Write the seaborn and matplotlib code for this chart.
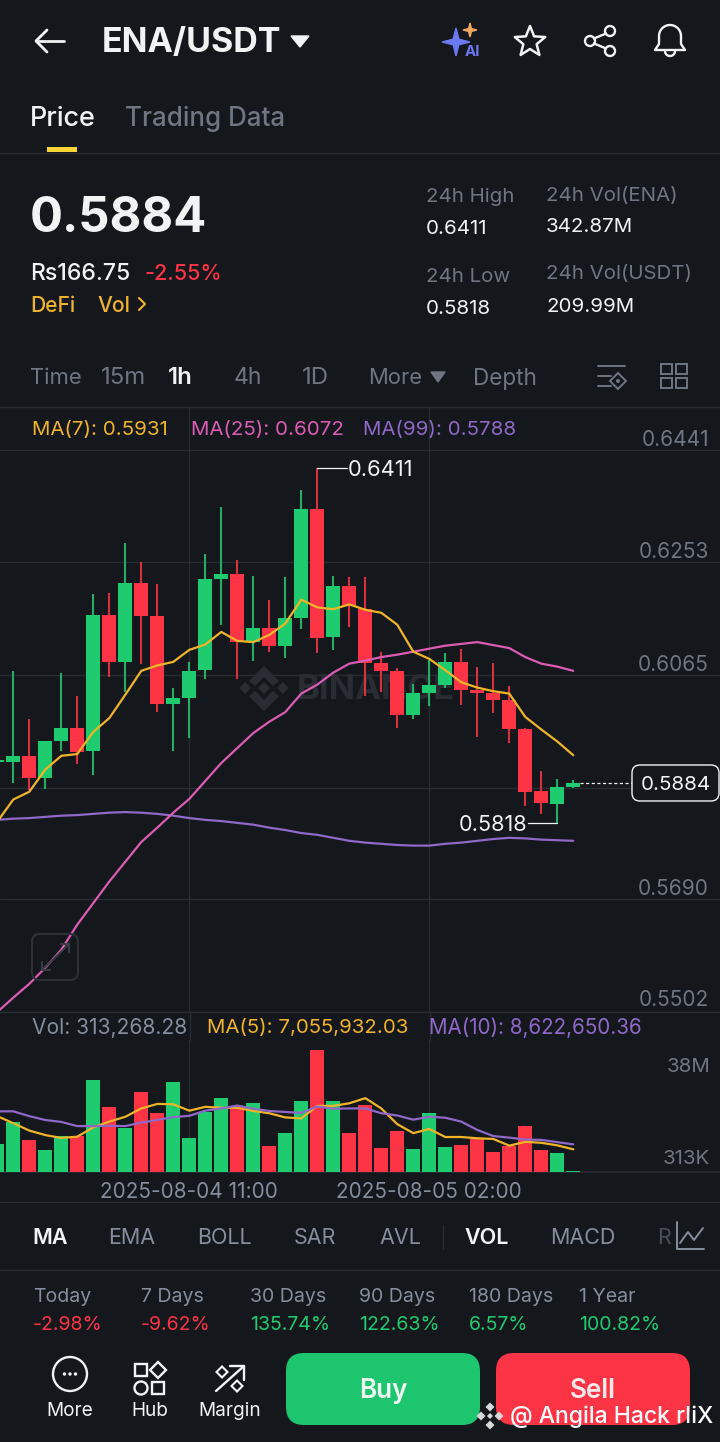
import numpy as np
import pandas as pd
import matplotlib
matplotlib.use('Agg')
import matplotlib.pyplot as plt
from matplotlib.patches import FancyBboxPatch, Polygon, Circle, Rectangle
from matplotlib.transforms import Affine2D
import seaborn as sns

# candle data, first candle is cut off by the left edge
candle_idx = list(range(-1, 36))
opens = [.5919, .5919, .5930, .5893, .5954, .5976, .5938, .6165, .6087, .6219, .6164, .6017, .6027, .6073, .6225, .6234,
         .6121, .6144, .6113, .6160, .6342, .6129, .6214, .6176, .6085, .6072, .5999, .6035, .6049, .6086, .6040, .6035,
         .6024, .5974, .5871, .5850, .5878]
closes = [.5923, .5930, .5893, .5954, .5977, .5937, .6165, .6087, .6219, .6164, .6017, .6026, .6072, .6225, .6233, .6121,
          .6144, .6113, .6160, .6343, .6127, .6214, .6181, .6085, .6072, .5999, .6035, .6049, .6086, .6040, .6035, .6024,
          .5974, .5870, .5851, .5878, .5884]
highs = [.5923, .6071, .5991, .5954, .6068, .6030, .6200, .6202, .6286, .6254, .6217, .6043, .6086, .6268, .6346, .6257,
         .6230, .6191, .6228, .6374, .6411, .6231, .6228, .6228, .6103, .6076, .6050, .6090, .6102, .6109, .6079, .6085,
         .6047, .5976, .5904, .5892, .5889]
lows = [.5919, .5884, .5873, .5874, .5938, .5916, .5898, .6062, .6037, .6083, .6004, .5938, .5960, .6059, .6149, .6059,
        .6088, .6103, .6093, .6142, .6101, .6107, .6145, .6030, .6036, .5977, .5991, .6014, .6044, .6015, .5962, .6001,
        .5951, .5847, .5832, .5818, .5877]

ma7 = [.5820, .5857, .5870, .5907, .5930, .5933, .5970, .5993, .6032, .6072, .6081, .6087, .6107, .6116, .6137, .6122,
       .6120, .6132, .6151, .6191, .6178, .6175, .6183, .6174, .6169, .6149, .6104, .6092, .6073, .6053, .6044, .6038,
       .6034, .5995, .5974, .5954, .5931]
ma25 = [.5502, .5526, .5549, .5576, .5606, .5648, .5684, .5720, .5753, .5786, .5810, .5835, .5858, .5888, .5918, .5943,
        .5968, .5987, .6003, .6034, .6049, .6069, .6084, .6089, .6095, .6099, .6104, .6109, .6114, .6117, .6120, .6115,
        .6110, .6095, .6084, .6079, .6072]
ma99 = [.5823, .5825, .5826, .5828, .5830, .5831, .5833, .5835, .5836, .5835, .5833, .5830, .5826, .5823, .5821, .5818,
        .5815, .5810, .5806, .5801, .5798, .5793, .5788, .5785, .5783, .5781, .5780, .5780, .5783, .5785, .5788, .5791,
        .5793, .5792, .5790, .5789, .5788]

# volume in millions
volumes = [8.6, 15.5, 10.0, 6.7, 11.3, 11.3, 28.6, 20.1, 13.8, 24.9, 18.4, 28.0, 10.5, 18.8, 23.0, 20.3, 21.5, 8.0, 12.2,
           22.2, 38.0, 22.0, 12.1, 20.8, 7.6, 12.9, 7.2, 18.3, 7.8, 8.5, 10.2, 6.2, 8.0, 14.3, 7.0, 5.9, 0.313]
vol_ma5 = [17.4, 15.2, 12.9, 11.5, 10.6, 11.0, 13.9, 15.7, 17.2, 19.8, 21.2, 21.1, 19.1, 20.3, 20.0, 20.0, 19.0, 18.3, 17.0,
           16.7, 20.6, 20.6, 21.4, 23.0, 19.8, 14.9, 12.1, 13.4, 10.9, 10.9, 10.5, 10.3, 8.2, 9.4, 9.1, 8.3, 7.06]
vol_ma10 = [18.9, 18.9, 17.4, 16.2, 15.6, 14.3, 14.3, 14.4, 14.3, 15.4, 16.2, 17.1, 17.5, 19.1, 19.8, 20.7, 19.7, 19.0, 18.7,
            18.4, 20.4, 19.7, 19.8, 19.8, 18.3, 17.6, 16.3, 17.2, 16.9, 15.7, 13.1, 11.2, 10.7, 10.1, 10.0, 9.3, 8.62]

price_ticks = [.6441, .6253, .6065, .5877, .5690, .5502]
price_labels = ['0.6441', '0.6253', '0.6065', '', '0.5690', '0.5502']
date_idx = [11, 26]
date_labels = ['2025-08-04 11:00', '2025-08-05 02:00']

BG = '#14171c'
GRID = '#282c33'
GRAY = '#848e9c'
DIM = '#6e7682'
WM = '#292d33'
GREEN = '#1fcb6f'
RED = '#fd3445'
YELLOW = '#f0b429'
PINK = '#dc5cb4'
PURPLE = '#8f68c8'
WHITE = '#f2f3f5'

sns.set_theme(style='dark', rc={'figure.facecolor': BG, 'axes.facecolor': BG, 'savefig.facecolor': BG})
plt.rcParams['font.family'] = ['Inter', 'DejaVu Sans']

H = 1442.0
fig = plt.figure(figsize=(7.2, 14.42), dpi=100)


def panel(top, bottom):
    return fig.add_axes([0, 1 - bottom / H, 1, (bottom - top) / H])


df = pd.DataFrame({'idx': candle_idx, 'open': opens, 'close': closes, 'high': highs, 'low': lows,
                   'ma7': ma7, 'ma25': ma25, 'ma99': ma99,
                   'vol': volumes, 'vol5': vol_ma5, 'vol10': vol_ma10})
df['up'] = df['close'] >= df['open']
df['color'] = np.where(df['up'], GREEN, RED)

xlim = (-0.831, 44.17)

# screen furniture lives in pixel coordinates
ui = fig.add_axes([0, 0, 1, 1], facecolor='none', zorder=10)
ui.set_xlim(0, 720)
ui.set_ylim(H, 0)
ui.axis('off')

# price panel
ax = panel(407, 1012)
ax.vlines(df['idx'], df['low'], df['high'], colors=df['color'], linewidth=1.5, alpha=.85, zorder=2)
ax.bar(df['idx'], (df['close'] - df['open']).abs().clip(lower=.0003), bottom=df[['open', 'close']].min(axis=1),
       width=.875, color=df['color'], linewidth=0, zorder=3)
for col, c in [('ma99', PURPLE), ('ma25', PINK), ('ma7', YELLOW)]:
    sns.lineplot(data=df, x='idx', y=col, color=c, linewidth=1.6, ax=ax, zorder=4)
ax.set_xlim(xlim)
ax.set_ylim(.5502, .65128)
ax.set_yticks(price_ticks)
ax.set_yticklabels(price_labels, fontsize=15, color='#6f7782', va='bottom', ha='right')
ax.yaxis.tick_right()
ax.tick_params(axis='y', direction='in', length=0, pad=-8)
ylab = ax.get_yticklabels()[-1]
ylab.set_transform(ylab.get_transform() + Affine2D().translate(0, 2))
ax.set_xticks(date_idx)
ax.set_xticklabels([])
ax.tick_params(axis='x', length=0)
ax.grid(True, color=GRID, linewidth=1)
ax.set_axisbelow(True)
ax.set_xlabel('')
ax.set_ylabel('')
sns.despine(ax=ax, left=True, bottom=True, top=True, right=True)

# faint exchange watermark behind the candles
ax.text(297, 690, 'BINANCE', transform=ui.transData, fontsize=25, color=WM, fontweight='bold', va='center', zorder=1)
logo = [[[245, 682], [251, 688], [245, 694], [239, 688]], [[283, 682], [289, 688], [283, 694], [277, 688]],
        [[264, 682], [270, 688], [264, 694], [258, 688]],
        [[264, 666], [279, 681], [273, 686], [264, 677], [255, 686], [249, 681]],
        [[264, 711], [279, 696], [273, 691], [264, 700], [255, 691], [249, 696]]]
for pts in logo:
    ax.add_patch(Polygon(pts, transform=ui.transData, color=WM, lw=0, zorder=1))

# high / low callouts
hi = df.loc[df['high'].idxmax()]
lo = df.loc[df['low'].idxmin()]
ax.plot([hi['idx'], hi['idx'] + 1.85], [hi['high'], hi['high']], color=WHITE, linewidth=.9, zorder=5)
ax.text(hi['idx'] + 1.88, hi['high'], '0.6411', color=WHITE, fontsize=15.8, va='center_baseline', ha='left', zorder=5)
ax.plot([lo['idx'] - 1.85, lo['idx']], [lo['low'], lo['low']], color=WHITE, linewidth=.9, zorder=5)
ax.text(lo['idx'] - 1.88, lo['low'], '0.5818', color=WHITE, fontsize=15.6, va='center_baseline', ha='right', zorder=5)

# last price
last = df.iloc[-1]
ax.plot([last['idx'] + .45, 38.65], [last['close'], last['close']], color=WHITE, linewidth=.9, linestyle=(0, (2.5, 2)), zorder=5)

# volume panel
vax = panel(1040, 1172)
sns.barplot(data=df, x='idx', y='vol', hue='up', palette={True: GREEN, False: RED}, native_scale=True, dodge=False,
            width=.875, saturation=1, legend=False, linewidth=0, ax=vax, zorder=3)
sns.lineplot(data=df, x='idx', y='vol5', color=YELLOW, linewidth=1.6, ax=vax, zorder=4)
sns.lineplot(data=df, x='idx', y='vol10', color=PURPLE, linewidth=1.6, ax=vax, zorder=5)
vax.set_xlim(xlim)
vax.set_ylim(0, 132 * 38.0 / 122)
vax.set_yticks([])
vax.set_xticks(date_idx)
vax.set_xticklabels(date_labels, fontsize=14.9, color=GRAY)
vax.tick_params(axis='x', length=0, pad=7)
vax.grid(True, axis='x', color=GRID, linewidth=1)
vax.set_axisbelow(True)
vax.set_xlabel('')
vax.set_ylabel('')
sns.despine(ax=vax, left=True, top=True, right=True)
vax.spines['bottom'].set_color(GRID)


def txt(x, y, s, px, color=WHITE, weight='normal', ha='left', **kw):
    return ui.text(x, y + 1.5, s, fontsize=px * .72, color=color, fontweight=weight, ha=ha, va='center', **kw)


def stroke(xs, ys, color=WHITE, lw=1.7, **kw):
    ui.plot(xs, ys, color=color, linewidth=lw, solid_capstyle='round', solid_joinstyle='round', **kw)


def star(cx, cy, r_out, r_in, n=5):
    ang = np.linspace(-np.pi / 2, 1.5 * np.pi, 2 * n, endpoint=False)
    rad = np.where(np.arange(2 * n) % 2 == 0, r_out, r_in)
    return np.column_stack([cx + rad * np.cos(ang), cy + rad * np.sin(ang)])


def diamond(cx, cy, r):
    return [[cx, cy - r], [cx + r, cy], [cx, cy + r], [cx - r, cy]]


# header
stroke([36, 64], [41, 41], lw=2)
stroke([47, 36, 47], [30, 41, 52], lw=2)
txt(102, 41, 'ENA/USDT', 34, weight='bold')
ui.add_patch(Polygon([[291, 36], [309, 36], [300, 47]], color=WHITE))
ui.add_patch(Polygon(star(456, 42, 14, 4, 4), color='#6c78f0'))
ui.add_patch(Polygon(star(470, 30, 7, 2, 4), color='#f0a860'))
txt(465, 51, 'AI', 15, color='#6c78f0', weight='bold')
ui.add_patch(Polygon(star(530, 42, 16, 7), fill=False, ec=WHITE, lw=1.8, joinstyle='round'))
for cx, cy in [(590, 41), (610, 31), (610, 51)]:
    ui.add_patch(Circle((cx, cy), 5, fill=False, ec=WHITE, lw=1.7))
stroke([594, 606], [38.5, 33.5])
stroke([594, 606], [43.5, 48.5])
th = np.linspace(np.pi, 2 * np.pi, 30)
stroke(np.r_[655, 659, 659 + 11 + 11 * np.cos(th), 681, 685, 655],
       np.r_[50, 44, 36 + 11 * np.sin(th), 44, 50, 50])
stroke(665 + 5 * (1 + np.cos(th - np.pi)), 51 + 5 * np.sin(th - np.pi))

txt(30, 117, 'Price', 27, weight='medium')
txt(125, 117, 'Trading Data', 26, color=DIM, weight='medium')
ui.add_patch(Rectangle((47, 147), 30, 5, color='#fcd535', lw=0))
ui.plot([0, 720], [153, 153], color=GRID, lw=1)

# price summary
txt(30, 218, '0.5884', 49, weight='bold')
txt(30, 273, 'Rs166.75', 23, weight='medium')
txt(144, 273, '-2.55%', 21.5, color=RED, weight='medium')
txt(30, 305, 'DeFi', 21, color=YELLOW, weight='medium')
txt(97, 305, 'Vol', 21, color=YELLOW, weight='medium')
stroke([139, 145, 139], [298, 304, 310], color=YELLOW, lw=1.5)
for x, y, s, c in [(426, 196, '24h High', DIM), (426, 228, '0.6411', WHITE), (426, 276, '24h Low', DIM),
                   (426, 308, '0.5818', WHITE), (546, 194, '24h Vol(ENA)', DIM), (546, 225, '342.87M', WHITE),
                   (546, 273, '24h Vol(USDT)', DIM), (546, 305, '209.99M', WHITE)]:
    txt(x, y, s, 20.5, color=c)

# interval tabs
for x, s, c, w, px in [(30, 'Time', DIM, 'normal', 22), (101, '15m', DIM, 'normal', 24), (168, '1h', WHITE, 'semibold', 24),
                       (234, '4h', DIM, 'normal', 23), (302, '1D', DIM, 'normal', 24), (368, 'More', DIM, 'normal', 22),
                       (473, 'Depth', DIM, 'normal', 22.5)]:
    txt(x, 377, s, px, color=c, weight=w)
ui.add_patch(Polygon([[431, 372], [445, 372], [438, 382]], color=DIM))
stroke([598, 625], [366, 366], color=DIM, lw=1.4)
stroke([598, 611], [376, 376], color=DIM, lw=1.4)
stroke([598, 611], [386, 386], color=DIM, lw=1.4)
ui.add_patch(Polygon(diamond(618, 381, 8), fill=False, ec=DIM, lw=1.4))
ui.add_patch(Circle((618, 381), 2, color=DIM, lw=0))
for x, y in [(661, 364), (676, 364), (661, 378), (676, 378)]:
    ui.add_patch(Rectangle((x, y), 11, 10, fill=False, ec=DIM, lw=1.4))
ui.plot([0, 720], [407, 407], color=GRID, lw=1)

# MA legends
txt(32, 428, 'MA(7): 0.5931', 20.5, color=YELLOW)
txt(191, 428, 'MA(25): 0.6072', 20.5, color=PINK)
txt(363, 428, 'MA(99): 0.5788', 20.5, color=PURPLE)

# last price tag
ui.add_patch(FancyBboxPatch((632, 765), 87, 36, boxstyle='round,pad=0,rounding_size=8', fc=BG, ec=WHITE, lw=1))
txt(675.5, 783.5, '0.5884', 20.5, ha='center')

# expand button
ui.add_patch(FancyBboxPatch((32, 934), 46, 46, boxstyle='round,pad=0,rounding_size=8', fc='none', ec='#2c3138', lw=1.5))
stroke([42, 69], [970, 944], color='#3a3f47', lw=1.4)
stroke([42, 42, 50], [962, 970, 970], color='#3a3f47', lw=1.4)
stroke([61, 69, 69], [944, 944, 952], color='#3a3f47', lw=1.4)

# volume legends and scale
ui.plot([189.5, 189.5], [1012, 1040], color=GRID, lw=1, zorder=-1)
ui.plot([429.5, 429.5], [1012, 1040], color=GRID, lw=1, zorder=-1)
ui.plot([0, 720], [1012, 1012], color=GRID, lw=1)
txt(32, 1026, 'Vol: 313,268.28', 21, color=GRAY)
txt(207, 1026, 'MA(5): 7,055,932.03', 20.4, color=YELLOW)
txt(429, 1026, 'MA(10): 8,622,650.36', 20.6, color=PURPLE)
txt(710, 1065, '38M', 20.5, color='#6f7782', ha='right')
txt(710, 1158, '313K', 20.5, color='#6f7782', ha='right')
ui.plot([0, 720], [1202, 1202], color=GRID, lw=1)

# indicator tabs
for x, s, c, w in [(32, 'MA', WHITE, 'semibold'), (108, 'EMA', GRAY, 'normal'), (197, 'BOLL', GRAY, 'normal'),
                   (294, 'SAR', GRAY, 'normal'), (379, 'AVL', GRAY, 'normal'), (464, 'VOL', WHITE, 'semibold'),
                   (550, 'MACD', GRAY, 'normal'), (657, 'R', '#4a505a', 'normal')]:
    txt(x, 1237, s, 21.5, color=c, weight=w)
ui.plot([443, 443], [1225, 1249], color=GRID, lw=1)
stroke([677, 677, 704], [1222, 1249, 1249], color=GRAY, lw=1.4)
stroke([680, 688, 694, 703], [1243, 1232, 1240, 1228], color=GRAY, lw=1.4)
ui.plot([0, 720], [1270, 1270], color=GRID, lw=1)

# period performance
for x, s, v, c in [(33, 'Today', '-2.98%', RED), (141, '7 Days', '-9.62%', RED), (250, '30 Days', '135.74%', GREEN),
                   (359, '90 Days', '122.63%', GREEN), (469, '180 Days', '6.57%', GREEN), (579, '1 Year', '100.82%', GREEN)]:
    txt(x, 1296, s, 19.5, color=GRAY)
    txt(x, 1324, v, 19.5, color=c)

# bottom bar
ui.add_patch(Circle((70, 1374), 17, fill=False, ec=WHITE, lw=1.7))
for dx in (-5.5, 0, 5.5):
    ui.add_patch(Circle((70 + dx, 1374), 1.7, color=WHITE, lw=0))
ui.add_patch(Rectangle((135, 1364), 12, 12, fill=False, ec=WHITE, lw=1.7))
ui.add_patch(Polygon(diamond(158, 1370, 8), fill=False, ec=WHITE, lw=1.7))
ui.add_patch(Circle((141, 1388), 6.5, fill=False, ec=WHITE, lw=1.7))
ui.add_patch(Rectangle((152, 1382), 12, 12, fill=False, ec=WHITE, lw=1.7))
stroke([216, 244], [1391, 1366])
stroke([230, 244, 244], [1366, 1366, 1380])
ui.add_patch(Polygon(diamond(222, 1372, 5.5), fill=False, ec=WHITE, lw=1.5))
ui.add_patch(Polygon(diamond(237, 1386, 5.5), fill=False, ec=WHITE, lw=1.5))
txt(70, 1410, 'More', 19, ha='center')
txt(150, 1410, 'Hub', 19, ha='center')
txt(230, 1410, 'Margin', 19, ha='center')
ui.add_patch(FancyBboxPatch((286, 1353), 194, 72, boxstyle='round,pad=0,rounding_size=18', fc='#1dc56f', ec='none'))
ui.add_patch(FancyBboxPatch((496, 1353), 194, 72, boxstyle='round,pad=0,rounding_size=18', fc=RED, ec='none'))
txt(383, 1390, 'Buy', 26, weight='semibold', ha='center', color='#eefbf3')
txt(593, 1390, 'Sell', 26, weight='semibold', ha='center', color='#ffe9eb')

# repost tag
for dx, dy in [(0, -9), (9, 0), (0, 9), (-9, 0)]:
    ui.add_patch(Polygon(diamond(490 + dx, 1416 + dy, 4.5), color='#d8d8d8', lw=0))
ui.add_patch(Polygon(diamond(490, 1416, 3), color='#d8d8d8', lw=0))
txt(510, 1415, '@ Angila Hack rIiX', 23, weight='medium', color='#ffffff')

fig.savefig('out.png', dpi=100)
